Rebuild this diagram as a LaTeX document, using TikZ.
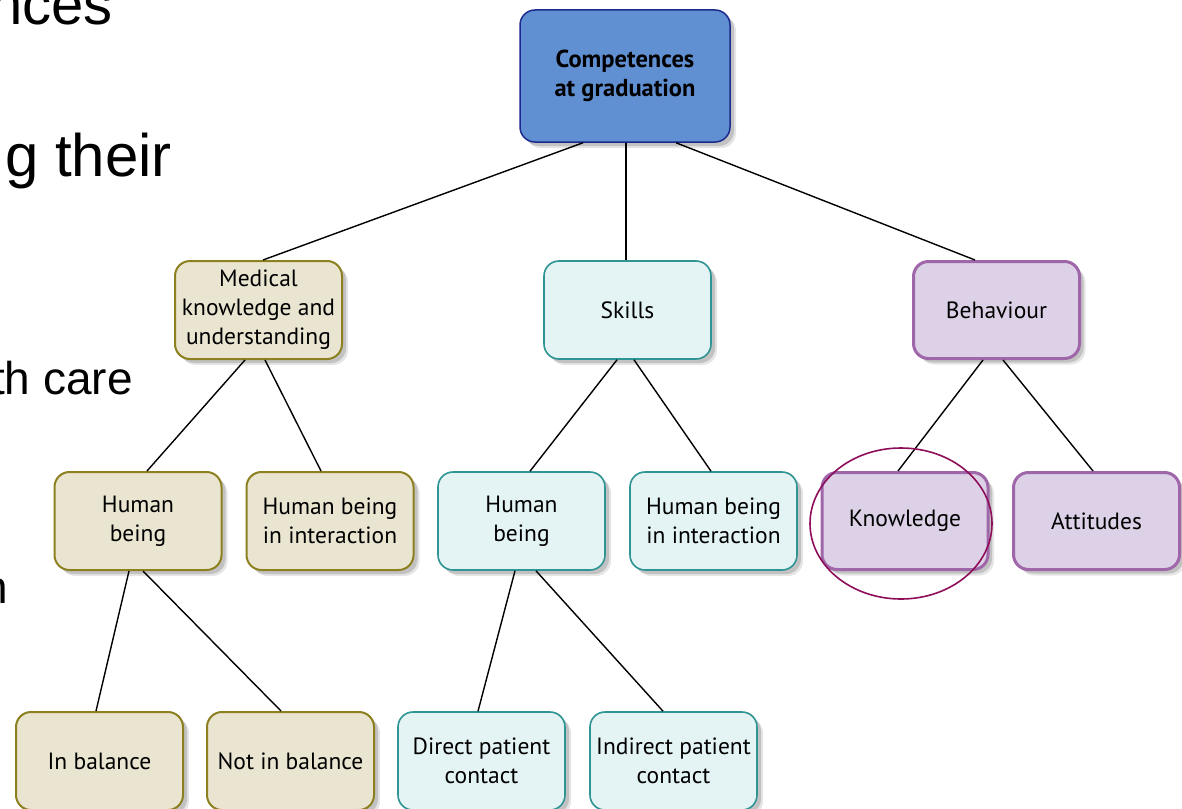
\documentclass[tikz,border=0pt]{standalone}
\usepackage{fontspec}
\setmainfont{PT Sans}
\newfontfamily\slidefont{Liberation Sans}
\usetikzlibrary{shadows}
\definecolor{bluefill}{HTML}{6190D2}
\definecolor{blueline}{HTML}{1B2A8C}
\definecolor{tanfill}{HTML}{E9E5D1}
\definecolor{tanline}{HTML}{8C8020}
\definecolor{tealfill}{HTML}{E4F4F4}
\definecolor{tealline}{HTML}{2E9494}
\definecolor{purpfill}{HTML}{DCD1E6}
\definecolor{purpline}{HTML}{A066AA}
\definecolor{ringcol}{HTML}{8E0E5A}
\tikzset{
  softshadow/.style={
    drop shadow={shadow xshift=6pt, shadow yshift=-6pt, opacity=0.10, fill=black},
    drop shadow={shadow xshift=4pt, shadow yshift=-4pt, opacity=0.15, fill=black}},
  boxbase/.style={rounded corners=15pt, align=center, inner sep=2pt,
    font=\fontsize{23.5}{29}\selectfont, text=black, softshadow},
  topbox/.style={boxbase, fill=bluefill, draw=blueline, line width=1.5pt,
    minimum width=210pt, minimum height=132pt, font=\bfseries\fontsize{24.5}{29}\selectfont},
  tanbox/.style={boxbase, fill=tanfill, draw=tanline, line width=2pt,
    minimum width=167pt, minimum height=98pt},
  tealbox/.style={boxbase, fill=tealfill, draw=tealline, line width=1.6pt,
    minimum width=167pt, minimum height=98pt},
  purpbox/.style={boxbase, fill=purpfill, draw=purpline, line width=3pt,
    minimum width=166pt, minimum height=97pt},
  link/.style={draw=black, line width=1.4pt},
  slidetext/.style={font=\slidefont, anchor=base east, inner sep=0pt, text=black},
}
\begin{document}
\begin{tikzpicture}[x=1pt, y=-1pt]
\useasboundingbox (0,0) rectangle (1182,808);
\fill[white] (0,0) rectangle (1182,808);

% cut-off slide text on the left
\node[slidetext, font=\slidefont\fontsize{58}{58}\selectfont] (s1) at (113,25) {nces};
\node[slidetext, font=\slidefont\fontsize{60}{60}\selectfont] (s2) at (172,176) {g their};
\node[slidetext, font=\slidefont\fontsize{46}{46}\selectfont] (s3) at (133,394) {th care};
\node[slidetext, font=\slidefont\fontsize{46}{46}\selectfont] (s4) at (8,603) {n};

% nodes
\node[topbox] (comp) at (625,76) {Competences\\at graduation};

\node[tanbox]  (med)    at (258.5,310) {Medical\\knowledge and\\understanding};
\node[tealbox] (skills) at (627.5,310) {Skills};
\node[purpbox] (beh)    at (996.5,310) {Behaviour};

\node[tanbox]  (hb1)  at (138,521)   {Human\\being};
\node[tanbox]  (hbi1) at (330,521)   {Human being\\in interaction};
\node[tealbox] (hb2)  at (521.5,521) {Human\\being};
\node[tealbox] (hbi2) at (713.5,521) {Human being\\in interaction};
\node[purpbox] (know) at (905,521)   {Knowledge};
\node[purpbox] (att)  at (1096.5,521) {Attitudes};

\node[tanbox]  (inb)  at (99.5,761)  {In balance};
\node[tanbox]  (notb) at (290.5,761) {Not in balance};
\node[tealbox] (dpc)  at (481.5,761) {Direct patient\\contact};
\node[tealbox] (ipc)  at (673.5,761) {Indirect patient\\contact};

% connectors
\draw[link] ([xshift=-42pt]comp.south) -- ([xshift=4.5pt]med.north);
\draw[link] ([xshift=1pt]comp.south) -- ([xshift=-1.5pt]skills.north);
\draw[link] ([xshift=51pt]comp.south) -- ([xshift=-21.5pt]beh.north);

\draw[link] ([xshift=-13.5pt]med.south) -- ([xshift=9pt]hb1.north);
\draw[link] ([xshift=6.5pt]med.south) -- ([xshift=-9pt]hbi1.north);
\draw[link] ([xshift=-10.5pt]skills.south) -- ([xshift=8.5pt]hb2.north);
\draw[link] ([xshift=6.5pt]skills.south) -- ([xshift=-2.5pt]hbi2.north);
\draw[link] ([xshift=-13.5pt]beh.south) -- ([xshift=-7pt]know.north);
\draw[link] ([xshift=6.5pt]beh.south) -- ([xshift=-3.5pt]att.north);

\draw[link] ([xshift=-9pt]hb1.south) -- ([xshift=-3.5pt]inb.north);
\draw[link] ([xshift=5pt]hb1.south) -- ([xshift=-9.5pt]notb.north);
\draw[link] ([xshift=-6.5pt]hb2.south) -- ([xshift=-3.5pt]dpc.north);
\draw[link] ([xshift=14.5pt]hb2.south) -- ([xshift=-10.5pt]ipc.north);

% highlight ring
\draw[ringcol, line width=1.6pt] ([xshift=-4pt, yshift=-2.5pt]know.center) ellipse [x radius=91pt, y radius=75.5pt];
\end{tikzpicture}
\end{document}
